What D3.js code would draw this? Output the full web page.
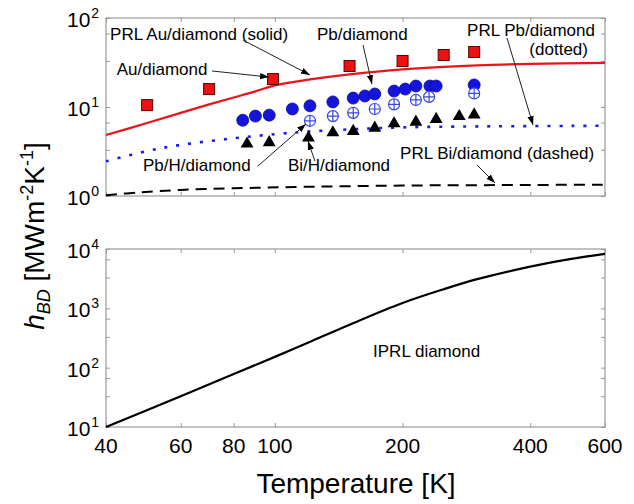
<!DOCTYPE html>
<html>
<head>
<meta charset="utf-8">
<script src="https://cdn.jsdelivr.net/npm/d3@7/dist/d3.min.js"></script>
<style>
body { margin: 0; background: #fff; }
text { font-family: "Liberation Sans", Arial, sans-serif; fill: #000; }
</style>
</head>
<body>
<svg width="634" height="504"></svg>
<script>
// temperature ticks (shared log x axis)
var tempTicks = [40, 60, 80, 100, 200, 400, 600];

// measured points, top panel
var auT = [50, 70, 99, 150, 200, 250, 295],
    auH = [10.5, 15.9, 20.6, 28.9, 32.9, 38.4, 41.5];
var pbT = [84, 90, 97, 110, 121, 137, 153, 163, 172, 191, 203, 215, 232, 240, 295],
    pbH = [7.1, 7.9, 8.1, 9.5, 10.3, 11.4, 12.6, 13.3, 14.0, 15.1, 15.9, 17.2, 17.2, 17.2, 17.7];
var pbhT = [121, 137, 153, 172, 191, 215, 231, 295],
    pbhH = [7.0, 7.9, 8.6, 9.5, 10.7, 12.0, 13.0, 14.2];
var biT = [86, 97, 120, 137, 153, 172, 191, 215, 240, 272, 295],
    biH = [3.85, 4.0, 4.5, 5.15, 5.35, 5.8, 6.5, 6.8, 7.3, 7.85, 8.2];

// model curves, top panel
var prlAuT = [40, 50, 60, 70, 80, 90, 100, 120, 150, 200, 300, 400, 600],
    prlAuH = [4.85, 6.6, 8.6, 10.7, 12.8, 15.0, 17.5, 20.3, 23.3, 26.5, 29.3, 30.5, 31.3];
var prlPbT = [40, 50, 60, 80, 100, 120, 150, 200, 300, 600],
    prlPbH = [2.45, 3.2, 3.75, 4.45, 4.95, 5.3, 5.6, 5.9, 6.05, 6.15];
var prlBiT = [40, 48, 60, 80, 120, 200, 400, 600],
    prlBiH = [1.02, 1.1, 1.17, 1.22, 1.27, 1.31, 1.33, 1.34];

// model curve, bottom panel
var iprlT = [40, 60, 80, 100, 120, 150, 200, 250, 300, 400, 500, 600],
    iprlH = [10, 33, 78, 152, 265, 530, 1230, 2100, 3100, 5050, 6800, 8300];

// axis ticks
var topMajor = [1, 10, 100], topMinor = [3.3, 6.7, 33, 67];
var botMajor = [10, 100, 1000, 10000], botMinor = [33, 67, 330, 670, 3300, 6700];

var svg = d3.select("svg");

var x = d3.scaleLog().domain([40, 600]).range([106, 605]);
var yTop = d3.scaleLog().domain([1, 100]).range([196, 18]);
var yBot = d3.scaleLog().domain([10, 10000]).range([427, 249]);

svg.append("defs").append("marker")
    .attr("id", "head")
    .attr("viewBox", "0 0 10 10")
    .attr("refX", 10).attr("refY", 5)
    .attr("markerWidth", 9).attr("markerHeight", 9)
    .attr("markerUnits", "userSpaceOnUse")
    .attr("orient", "auto")
  .append("path")
    .attr("d", "M0,1.5L10,5L0,8.5Z")
    .attr("fill", "#000");

function panel(y, major, minor) {
    var g = svg.append("g");
    var r = y.range();
    // inward ticks on all four sides
    g.append("g").attr("transform", "translate(0," + r[0] + ")")
        .call(d3.axisBottom(x).tickValues(tempTicks).tickSize(-4).tickFormat(""));
    g.append("g").attr("transform", "translate(0," + r[1] + ")")
        .call(d3.axisTop(x).tickValues(tempTicks).tickSize(-4).tickFormat(""));
    g.append("g").attr("transform", "translate(" + x.range()[0] + ",0)")
        .call(d3.axisLeft(y).tickValues(major.concat(minor)).tickSize(-4).tickFormat(""));
    g.append("g").attr("transform", "translate(" + x.range()[1] + ",0)")
        .call(d3.axisRight(y).tickValues(major.concat(minor)).tickSize(-4).tickFormat(""));
    g.selectAll(".domain").remove();
    g.selectAll(".tick line").attr("stroke", "#999");
    g.append("rect")
        .attr("x", x.range()[0]).attr("y", r[1])
        .attr("width", x.range()[1] - x.range()[0]).attr("height", r[0] - r[1])
        .attr("fill", "none").attr("stroke", "#999").attr("stroke-width", 1.2);
    // 10^n labels
    var lab = g.selectAll(".ylab").data(major).enter().append("text")
        .attr("x", 67).attr("y", function(d) { return y(d) + 9; })
        .style("font-size", "21px");
    lab.append("tspan").text("10");
    lab.append("tspan").attr("dx", 1).attr("dy", -9).style("font-size", "14px")
        .text(function(d) { return Math.round(Math.log10(d)); });
    return g;
}

panel(yTop, topMajor, topMinor);
panel(yBot, botMajor, botMinor);

// x tick labels
svg.selectAll(".xlab").data(tempTicks).enter().append("text")
    .attr("x", function(d) { return x(d); }).attr("y", 453)
    .attr("text-anchor", "middle").style("font-size", "21px")
    .text(function(d) { return d; });

svg.append("text").attr("x", 356).attr("y", 493).attr("text-anchor", "middle")
    .style("font-size", "28px").text("Temperature [K]");

var yt = svg.append("text").attr("transform", "translate(44,236) rotate(-90)")
    .attr("text-anchor", "middle").style("font-size", "28px");
yt.append("tspan").style("font-style", "italic").text("h");
yt.append("tspan").style("font-style", "italic").style("font-size", "18px").attr("dy", 6).text("BD");
yt.append("tspan").attr("dy", -6).text(" [MWm");
yt.append("tspan").style("font-size", "18px").attr("dy", -11).text("-2");
yt.append("tspan").attr("dy", 11).text("K");
yt.append("tspan").style("font-size", "18px").attr("dy", -11).text("-1");
yt.append("tspan").attr("dy", 11).text("]");

// curves
function curve(y, T, H) {
    return d3.line().x(function(d) { return x(d[0]); }).y(function(d) { return y(d[1]); })
        .curve(d3.curveCatmullRom)(d3.zip(T, H));
}
svg.append("path").attr("d", curve(yTop, prlAuT, prlAuH))
    .attr("fill", "none").attr("stroke", "#e8161b").attr("stroke-width", 2.2);
svg.append("path").attr("d", curve(yTop, prlPbT, prlPbH))
    .attr("fill", "none").attr("stroke", "#1a1aee").attr("stroke-width", 2.6)
    .attr("stroke-dasharray", "3,9");
svg.append("path").attr("d", curve(yTop, prlBiT, prlBiH))
    .attr("fill", "none").attr("stroke", "#000").attr("stroke-width", 2)
    .attr("stroke-dasharray", "11,7");
svg.append("path").attr("d", curve(yBot, iprlT, iprlH))
    .attr("fill", "none").attr("stroke", "#000").attr("stroke-width", 2.2);

// markers
svg.selectAll(".au").data(d3.zip(auT, auH)).enter().append("rect")
    .attr("x", function(d) { return x(d[0]) - 5.5; })
    .attr("y", function(d) { return yTop(d[1]) - 5.5; })
    .attr("width", 11).attr("height", 11)
    .attr("fill", "#ee1111").attr("stroke", "#5a0000").attr("stroke-width", 1);

svg.selectAll(".pb").data(d3.zip(pbT, pbH)).enter().append("circle")
    .attr("cx", function(d) { return x(d[0]); })
    .attr("cy", function(d) { return yTop(d[1]); })
    .attr("r", 6).attr("fill", "#1414dc").attr("stroke", "#0a0a90").attr("stroke-width", 0.8);

var pbh = svg.selectAll(".pbh").data(d3.zip(pbhT, pbhH)).enter().append("g")
    .attr("transform", function(d) { return "translate(" + x(d[0]) + "," + yTop(d[1]) + ")"; });
pbh.append("circle").attr("r", 5.5).attr("fill", "#fff").attr("stroke", "#3646e0").attr("stroke-width", 1.2);
pbh.append("path").attr("d", "M-5.5,0H5.5M0,-5.5V5.5").attr("stroke", "#3646e0").attr("stroke-width", 1.2);

svg.selectAll(".bi").data(d3.zip(biT, biH)).enter().append("path")
    .attr("transform", function(d) { return "translate(" + x(d[0]) + "," + yTop(d[1]) + ")"; })
    .attr("d", d3.symbol().type(d3.symbolTriangle).size(72)())
    .attr("fill", "#000");

// annotations (data coordinates)
var notes = [
    {p: yTop, t: "PRL Au/diamond (solid)", at: [40.9, 56.6], from: [84.1, 56.6], to: [121, 22.9]},
    {p: yTop, t: "Au/diamond", at: [42.4, 22.9], from: [71.1, 25.4], to: [96.9, 21.7]},
    {p: yTop, t: "Pb/diamond", at: [125.7, 56.6], from: [161.4, 49.7], to: [169.4, 18.1]},
    {p: yTop, t: "PRL Pb/diamond", at: [283.8, 62.8], from: [352.5, 59.6], to: [406, 6.28]},
    {p: yTop, t: "(dotted)", at: [547, 38.4], anchor: "end"},
    {p: yTop, t: "Pb/H/diamond", at: [48.9, 1.91], from: [91.2, 2.17], to: [118.4, 6.44]},
    {p: yTop, t: "Bi/H/diamond", at: [107.4, 1.91], from: [124.3, 2.47], to: [119.7, 4.15]},
    {p: yTop, t: "PRL Bi/diamond (dashed)", at: [197.3, 2.6], from: [299.5, 2.23], to: [330.3, 1.4]},
    {p: yBot, t: "IPRL diamond", at: [170.4, 151]}
];

notes.forEach(function(n) {
    svg.append("text").attr("x", x(n.at[0])).attr("y", n.p(n.at[1]))
        .attr("text-anchor", n.anchor || "start").style("font-size", "17px").text(n.t);
    if (n.from) {
        svg.append("line")
            .attr("x1", x(n.from[0])).attr("y1", n.p(n.from[1]))
            .attr("x2", x(n.to[0])).attr("y2", n.p(n.to[1]))
            .attr("stroke", "#222").attr("stroke-width", 1)
            .attr("marker-end", "url(#head)");
    }
});
</script>
</body>
</html>
